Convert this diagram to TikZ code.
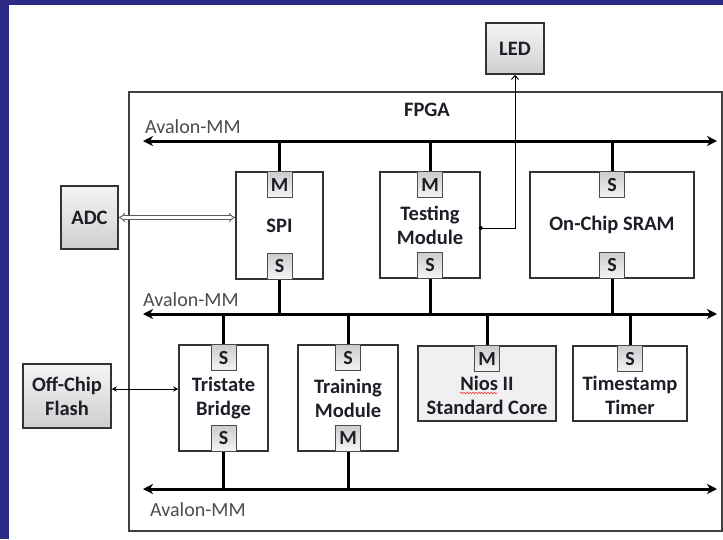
\documentclass[tikz,border=0pt]{standalone}
\usepackage{fontspec}
\setmainfont{Carlito}
\usetikzlibrary{arrows.meta,decorations.pathmorphing}

\definecolor{slideblue}{RGB}{43,42,132}
\definecolor{ink}{RGB}{30,30,40}

\begin{document}
\begin{tikzpicture}[x=1pt, y=-1pt,
  blk/.style={draw=black!80, line width=1.5pt, inner sep=0pt, align=center,
    font=\fontsize{20.5}{24}\selectfont\bfseries, text=ink},
  ext/.style={blk, top color=gray!8, bottom color=gray!38},
  port/.style={draw=black!70, line width=1pt, inner sep=0pt,
    top color=gray!40, bottom color=gray!8,
    minimum width=25pt, minimum height=26pt,
    font=\fontsize{20}{20}\selectfont\bfseries, text=ink},
  txt/.style={align=center, font=\fontsize{20.5}{24}\selectfont\bfseries, text=ink},
  buslbl/.style={anchor=west, inner sep=0pt, text=gray!60!black,
    font=\fontsize{20}{20}\selectfont},
  bus/.style={line width=3pt, {Stealth[length=10pt,width=10pt,inset=3pt]}-{Stealth[length=10pt,width=10pt,inset=3pt]}},
  stub/.style={line width=3pt}]

\useasboundingbox (0,0) rectangle (723,539);
\fill[slideblue] (0,0) rectangle (723,539);
\fill[white] (9,5) rectangle (723,539);

% outside the chip
\node[ext, minimum width=58pt, minimum height=51pt] (led) at (515,48.5) {LED};
\node[ext, minimum width=57pt, minimum height=63pt] (adc) at (89.5,217.5) {ADC};
\node[ext, minimum width=88pt, minimum height=64pt] (flash) at (67,396) {Off-Chip\\Flash};

% the chip
\node[draw=black!75, line width=1.3pt, minimum width=593pt, minimum height=439pt] (fpga) at (425.5,311.5) {};
\node[txt] (fpgalbl) at (427,110) {FPGA};

\node[blk, minimum width=87pt, minimum height=107pt] (spi) at (279.5,225.5) {SPI};
\node[blk, minimum width=100pt, minimum height=106pt] (test) at (430,225) {Testing\\Module};
\node[blk, minimum width=164pt, minimum height=106pt] (sram) at (612,225) {On-Chip SRAM};
\node[blk, minimum width=89pt, minimum height=106pt] (tri) at (223.5,398) {Tristate\\Bridge};
\node[blk, minimum width=100pt, minimum height=106pt] (train) at (348,398) {Training\\Module};
\node[blk, fill=gray!12, minimum width=138pt, minimum height=75pt] (nios) at (487,383.5) {};
\node[blk, minimum width=114pt, minimum height=75pt] (timer) at (630,383.5) {};
\node[txt] (niostxt) at ([yshift=-12pt]nios.center) {Nios II\\Standard Core};
\node[txt] (timertxt) at ([yshift=-12pt]timer.center) {Timestamp\\Timer};
\draw[red!80, line width=0.6pt, decorate, decoration={snake, amplitude=0.8pt, segment length=3pt}] (460,393) -- (497,393);

% ports
\node[port, anchor=north] (spim) at (spi.north) {M};
\node[port, anchor=south] (spis) at (spi.south) {S};
\node[port, anchor=north] (testm) at (test.north) {M};
\node[port, anchor=south] (tests) at (test.south) {S};
\node[port, anchor=north] (sramsa) at (sram.north) {S};
\node[port, anchor=south] (sramsb) at (sram.south) {S};
\node[port, anchor=north] (trisa) at (tri.north) {S};
\node[port, anchor=south] (trisb) at (tri.south) {S};
\node[port, anchor=north] (trains) at (train.north) {S};
\node[port, anchor=south] (trainm) at (train.south) {M};
\node[port, anchor=north] (niosm) at (nios.north) {M};
\node[port, anchor=north] (timers) at (timer.north) {S};

% Avalon-MM buses
\coordinate (busa-l) at (143,141);
\coordinate (busa-r) at (717,141);
\coordinate (busb-l) at (143,314);
\coordinate (busb-r) at (717,314);
\coordinate (busc-l) at (143,489);
\coordinate (busc-r) at (717,489);
\draw[bus] (busa-l) -- (busa-r);
\draw[bus] (busb-l) -- (busb-r);
\draw[bus] (busc-l) -- (busc-r);
\node[buslbl] (lbla) at (145,127) {Avalon-MM};
\node[buslbl] (lblb) at (143,300) {Avalon-MM};
\node[buslbl] (lblc) at (150,510) {Avalon-MM};

\draw[stub] (spim) -- (spim |- busa-l);
\draw[stub] (testm) -- (testm |- busa-l);
\draw[stub] (sramsa) -- (sramsa |- busa-l);
\draw[stub] (spis) -- (spis |- busb-l);
\draw[stub] (tests) -- (tests |- busb-l);
\draw[stub] (sramsb) -- (sramsb |- busb-l);
\draw[stub] (trisa) -- (trisa |- busb-l);
\draw[stub] (trains) -- (trains |- busb-l);
\draw[stub] (niosm) -- (niosm |- busb-l);
\draw[stub] (timers) -- (timers |- busb-l);
\draw[stub] (trisb) -- (trisb |- busc-l);
\draw[stub] (trainm) -- (trainm |- busc-l);

% off-chip links
\draw[draw=gray!70!black, line width=0.8pt, double=white, double distance=2.5pt, {Implies}-{Implies}] (adc.east) -- (adc.east -| spi.west);
\draw[line width=1pt, {Stealth[length=5pt,width=5pt]}-{Stealth[length=5pt,width=5pt]}] ([yshift=7pt]flash.east) -- ([yshift=7pt]flash.east -| tri.west);
\coordinate (tap) at ([yshift=-3pt]test.east);
\fill (tap) circle (2pt);
\draw[line width=1pt, -{Straight Barb[length=4pt,width=7pt]}] (tap) -| (led.south);
\end{tikzpicture}
\end{document}
